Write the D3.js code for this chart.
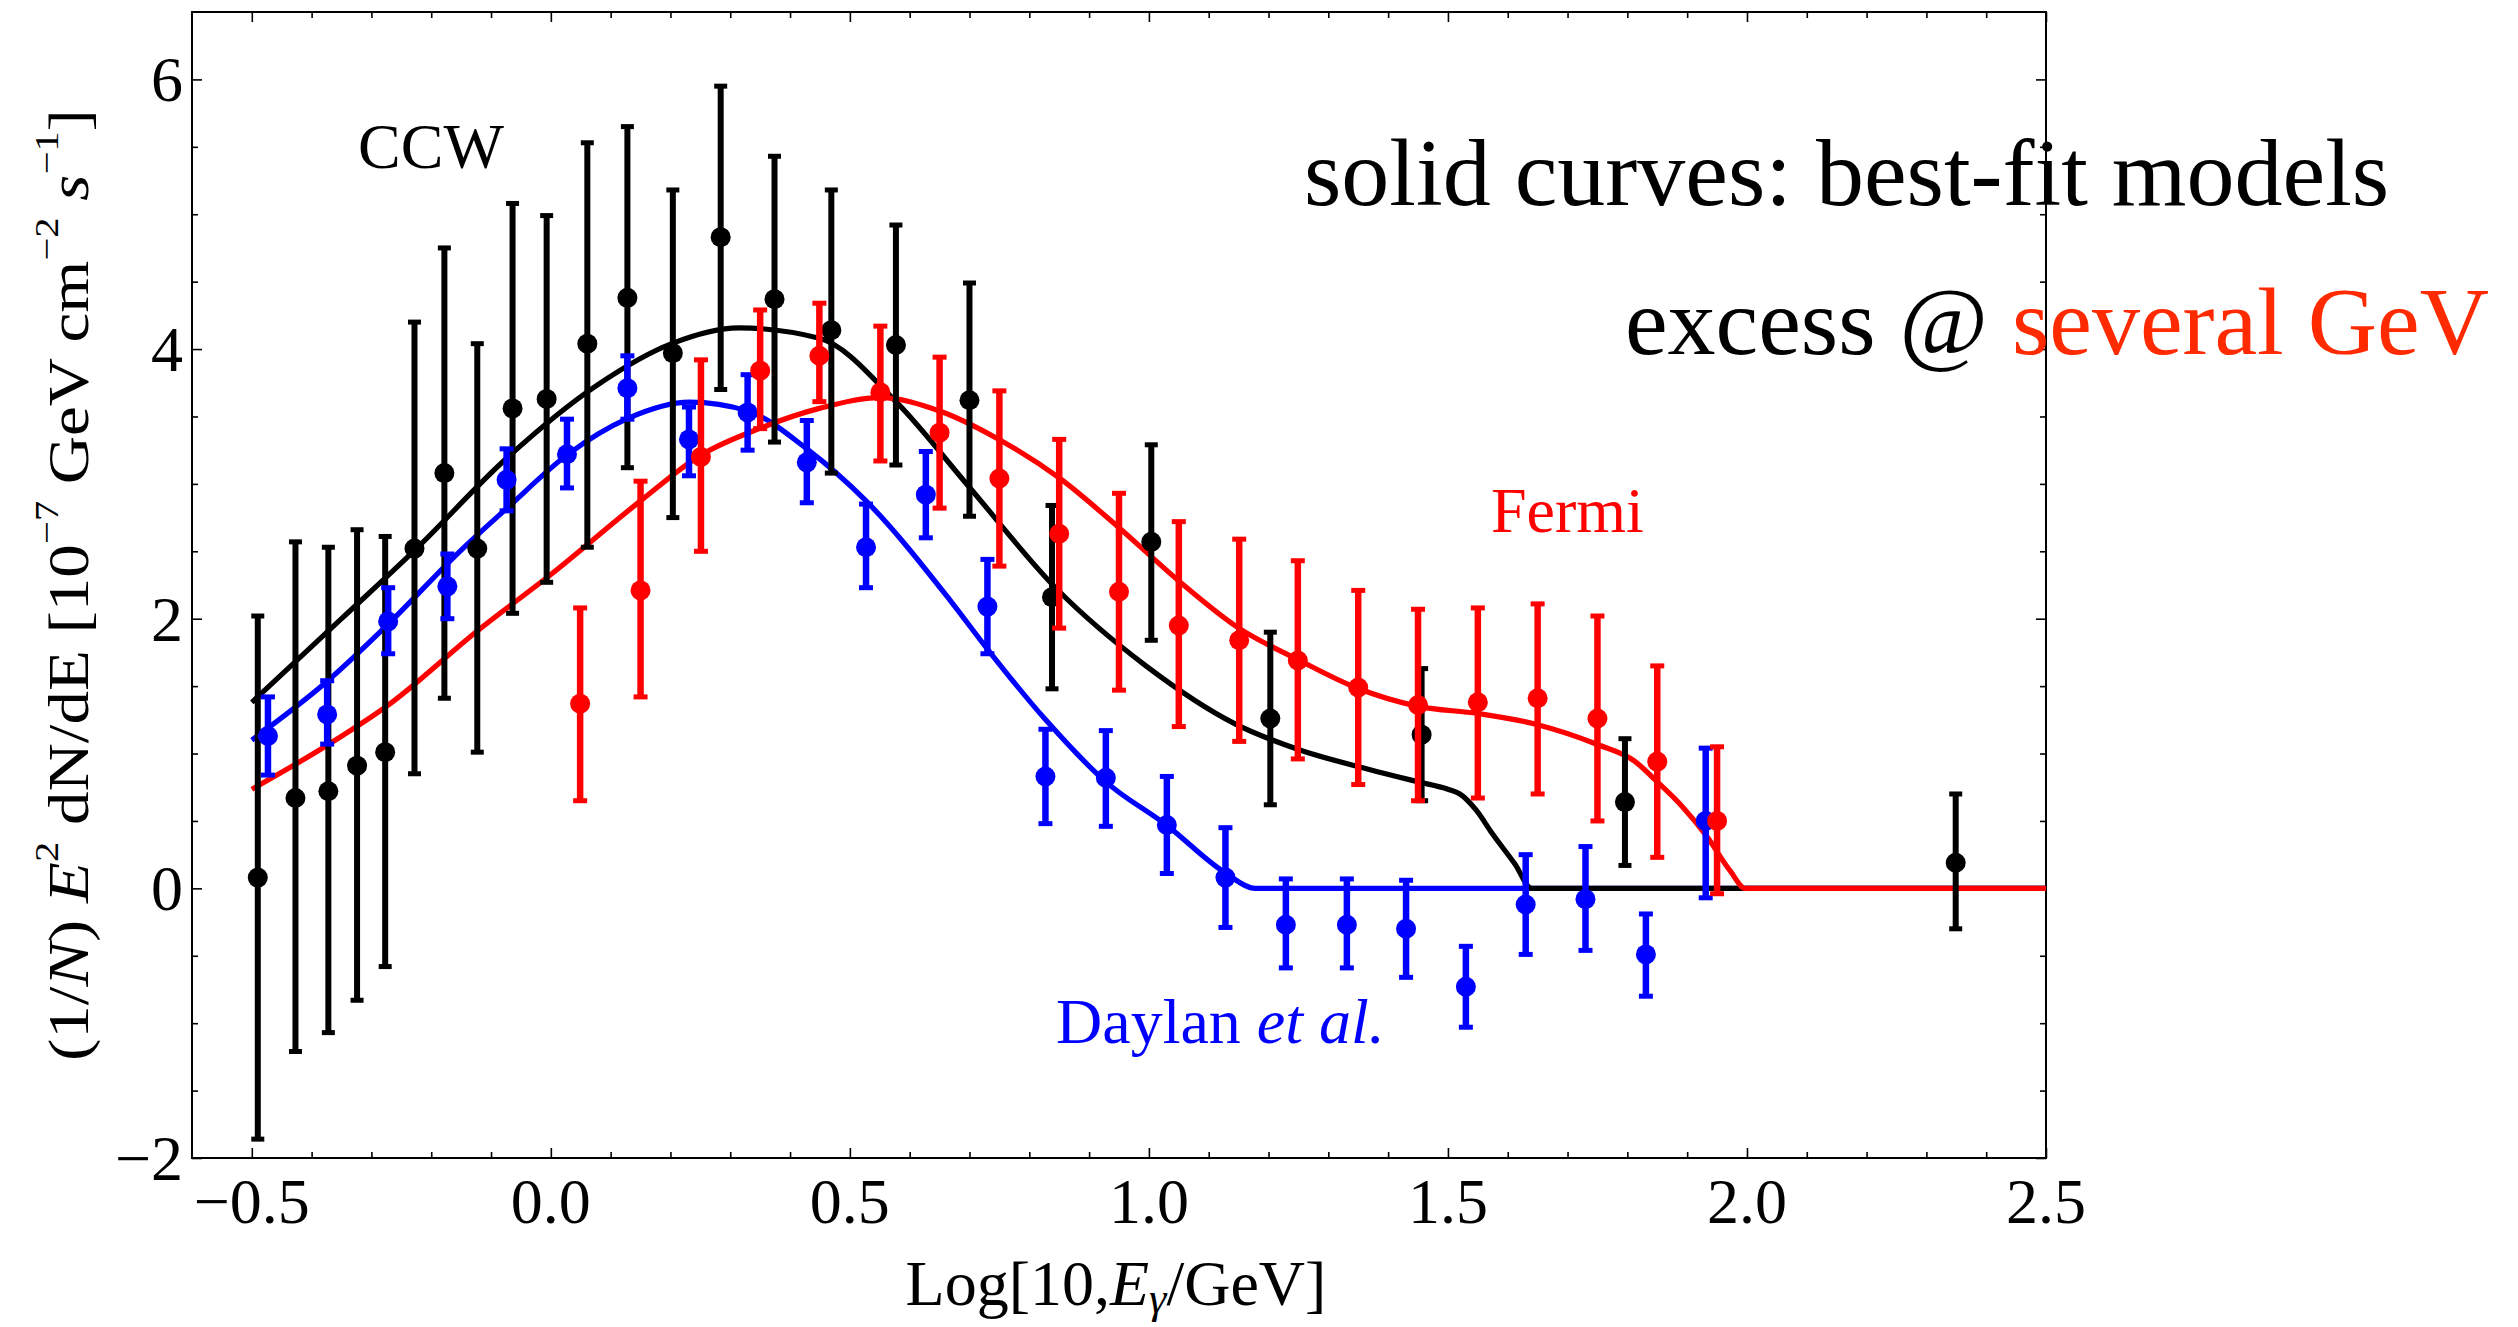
<!DOCTYPE html>
<html lang="en">
  <head>
    <meta charset="UTF-8" />
    <title>CCW / Fermi / Daylan spectra</title>
    <script src="https://cdn.jsdelivr.net/npm/d3@7"></script>
    <style>
      html,
      body {
        margin: 0;
        padding: 0;
        background: #fff;
      }
      svg {
        display: block;
        font-family: 'Liberation Serif', 'Times New Roman', serif;
      }
    </style>
  </head>
  <body>
    <svg width="2518" height="1327"></svg>
    <script>
      // CCW points (black)
      const ccwX = [-0.490, -0.427, -0.372, -0.324, -0.277, -0.228, -0.178, -0.123, -0.064, -0.007, 0.061, 0.128,
        0.204, 0.284, 0.374, 0.469, 0.577, 0.700, 0.838, 1.004, 1.203, 1.456, 1.796, 2.349];
      const ccwY = [0.08, 0.67, 0.72, 0.91, 1.01, 2.52, 3.08, 2.52, 3.56, 3.63, 4.04, 4.38,
        3.97, 4.83, 4.37, 4.14, 4.03, 3.62, 2.16, 2.57, 1.26, 1.14, 0.64, 0.19];
      const ccwHi = [2.02, 2.57, 2.53, 2.66, 2.61, 4.20, 4.75, 4.04, 5.08, 4.99, 5.53, 5.65,
        5.18, 5.95, 5.43, 5.18, 4.92, 4.49, 2.84, 3.29, 1.90, 1.63, 1.11, 0.70];
      const ccwLo = [-1.86, -1.21, -1.07, -0.83, -0.58, 0.85, 1.41, 1.01, 2.04, 2.27, 2.53, 3.12,
        2.75, 3.70, 3.31, 3.08, 3.14, 2.76, 1.48, 1.84, 0.62, 0.65, 0.17, -0.30];

      // Daylan et al. points (blue)
      const daylanX = [-0.473, -0.374, -0.272, -0.173, -0.074, 0.027, 0.128, 0.231, 0.329, 0.428, 0.527, 0.627,
        0.730, 0.827, 0.928, 1.030, 1.128, 1.229, 1.331, 1.430, 1.530, 1.630, 1.730, 1.831, 1.931];
      const daylanY = [1.13, 1.29, 1.98, 2.24, 3.03, 3.22, 3.71, 3.33, 3.53, 3.16, 2.53, 2.92,
        2.09, 0.83, 0.82, 0.47, 0.08, -0.27, -0.27, -0.30, -0.73, -0.12, -0.08, -0.49, 0.50];
      const daylanHi = [1.42, 1.54, 2.23, 2.48, 3.26, 3.48, 3.95, 3.57, 3.81, 3.47, 2.85, 3.24,
        2.44, 1.18, 1.17, 0.83, 0.45, 0.07, 0.07, 0.06, -0.43, 0.25, 0.31, -0.19, 1.04];
      const daylanLo = [0.84, 1.07, 1.74, 2.00, 2.80, 2.97, 3.48, 3.06, 3.25, 2.86, 2.23, 2.60,
        1.74, 0.48, 0.46, 0.11, -0.29, -0.59, -0.59, -0.66, -1.03, -0.49, -0.46, -0.80, -0.07];

      // Fermi points (red)
      const fermiX = [0.049, 0.150, 0.251, 0.350, 0.449, 0.551, 0.650, 0.750, 0.850, 0.950,
        1.050, 1.151, 1.249, 1.350, 1.450, 1.550, 1.650, 1.750, 1.850, 1.950];
      const fermiY = [1.37, 2.21, 3.20, 3.84, 3.95, 3.68, 3.38, 3.04, 2.63, 2.20,
        1.95, 1.84, 1.69, 1.49, 1.36, 1.38, 1.41, 1.26, 0.94, 0.50];
      const fermiHi = [2.08, 3.02, 3.92, 4.29, 4.34, 4.17, 3.94, 3.69, 3.33, 2.93,
        2.72, 2.59, 2.43, 2.21, 2.07, 2.08, 2.11, 2.02, 1.65, 1.05];
      const fermiLo = [0.65, 1.42, 2.50, 3.41, 3.61, 3.17, 2.82, 2.39, 1.93, 1.47,
        1.20, 1.09, 0.96, 0.77, 0.65, 0.67, 0.70, 0.50, 0.23, -0.04];

      // best-fit curves
      const ccwFitX = [-0.50, -0.35, -0.227, -0.074, 0.075, 0.202, 0.314, 0.449, 0.577, 0.697, 0.846, 0.995,
        1.144, 1.25, 1.37, 1.45, 1.50, 1.52, 1.548, 1.572, 1.612, 1.64, 2.5];
      const ccwFitY = [1.38, 2.00, 2.51, 3.19, 3.725, 4.04, 4.157, 4.08, 3.61, 2.99, 2.22, 1.65,
        1.22, 1.03, 0.88, 0.79, 0.735, 0.70, 0.576, 0.42, 0.18, 0, 0];

      const daylanFitX = [-0.50, -0.372, -0.272, -0.149, -0.074, 0.027, 0.128, 0.232, 0.329, 0.428, 0.527, 0.667,
        0.730, 0.827, 0.928, 1.030, 1.128, 1.178, 2.5];
      const daylanFitY = [1.10, 1.544, 1.96, 2.513, 2.817, 3.214, 3.484, 3.606, 3.541, 3.26, 2.874, 2.14,
        1.775, 1.252, 0.79, 0.467, 0.114, 0, 0];

      const fermiFitX = [-0.50, -0.372, -0.272, -0.122, 0.0, 0.15, 0.251, 0.35, 0.449, 0.551, 0.65, 0.75, 0.85,
        0.95, 1.05, 1.151, 1.249, 1.35, 1.45, 1.55, 1.65, 1.75, 1.812, 1.85, 1.892, 1.932, 1.972, 1.997, 2.5];
      const fermiFitY = [0.735, 1.067, 1.359, 1.913, 2.328, 2.874, 3.214, 3.413, 3.56, 3.64, 3.541, 3.328, 3.044,
        2.675, 2.28, 1.928, 1.697, 1.482, 1.35, 1.297, 1.214, 1.067, 0.944, 0.79, 0.606, 0.391, 0.129, 0, 0];

      const xMajor = [-0.5, 0, 0.5, 1, 1.5, 2, 2.5];
      const yMajor = [-2, 0, 2, 4, 6];

      const svg = d3.select('svg');
      const plotLeft = 192, plotRight = 2046, plotTop = 12, plotBottom = 1158;

      const x = d3.scaleLinear().domain([-0.6, 2.5]).range([plotLeft, plotRight]);
      const y = d3.scaleLinear().domain([-2, 6.5]).range([plotBottom, plotTop]);

      const xMinor = d3.range(-0.5, 2.5001, 0.1).filter(v => Math.abs(v * 2 - Math.round(v * 2)) > 1e-6);
      const yMinor = d3.range(-2, 6.5001, 0.5).filter(v => Math.abs(v / 2 - Math.round(v / 2)) > 1e-6 && v < 6.4);

      function ticks(axis, pos, transform, vals, size) {
        const g = svg.append('g')
          .attr('transform', transform)
          .call(axis(pos).tickValues(vals).tickSize(-size).tickFormat(''));
        g.select('.domain').remove();
        g.selectAll('line').attr('stroke', '#000').attr('stroke-width', 1.6);
        return g;
      }

      ticks(d3.axisBottom, x, `translate(0,${plotBottom})`, xMajor, 10);
      ticks(d3.axisBottom, x, `translate(0,${plotBottom})`, xMinor, 6);
      ticks(d3.axisTop, x, `translate(0,${plotTop})`, xMajor, 10);
      ticks(d3.axisTop, x, `translate(0,${plotTop})`, xMinor, 6);
      ticks(d3.axisLeft, y, `translate(${plotLeft},0)`, yMajor, 10);
      ticks(d3.axisLeft, y, `translate(${plotLeft},0)`, yMinor, 6);
      ticks(d3.axisRight, y, `translate(${plotRight},0)`, yMajor, 10);
      ticks(d3.axisRight, y, `translate(${plotRight},0)`, yMinor, 6);

      // tick labels
      svg.append('g')
        .selectAll('text')
        .data(xMajor)
        .enter()
        .append('text')
        .attr('x', d => x(d))
        .attr('y', 1223)
        .attr('text-anchor', 'middle')
        .attr('font-size', 64)
        .text(d => d3.format('.1f')(d));

      svg.append('g')
        .selectAll('text')
        .data(yMajor)
        .enter()
        .append('text')
        .attr('x', 183)
        .attr('y', d => y(d) + 22)
        .attr('text-anchor', 'end')
        .attr('font-size', 64)
        .text(d => d3.format('d')(d));

      svg.append('rect')
        .attr('x', plotLeft)
        .attr('y', plotTop)
        .attr('width', plotRight - plotLeft)
        .attr('height', plotBottom - plotTop)
        .attr('fill', 'none')
        .attr('stroke', '#000')
        .attr('stroke-width', 2);

      // curves
      const line = d3.line()
        .x(d => x(d[0]))
        .y(d => y(d[1]))
        .curve(d3.curveMonotoneX);

      function curve(xs, ys, color) {
        svg.append('path')
          .datum(d3.zip(xs, ys))
          .attr('d', line)
          .attr('fill', 'none')
          .attr('stroke', color)
          .attr('stroke-width', 5.2)
          .attr('stroke-linejoin', 'round');
      }

      curve(daylanFitX, daylanFitY, '#0000ff');
      curve(ccwFitX, ccwFitY, '#000000');
      curve(fermiFitX, fermiFitY, '#ff0000');

      // points with error bars
      function points(xs, ys, lo, hi, color, bw, cw) {
        const data = xs.map((v, i) => ({ x: v, y: ys[i], lo: lo[i], hi: hi[i] }));
        const g = svg.append('g');
        g.selectAll('line.bar')
          .data(data)
          .enter()
          .append('line')
          .attr('class', 'bar')
          .attr('x1', d => x(d.x))
          .attr('x2', d => x(d.x))
          .attr('y1', d => y(d.lo))
          .attr('y2', d => y(d.hi))
          .attr('stroke', color)
          .attr('stroke-width', bw);
        ['lo', 'hi'].forEach(k => {
          g.selectAll('line.cap-' + k)
            .data(data)
            .enter()
            .append('line')
            .attr('class', 'cap-' + k)
            .attr('x1', d => x(d.x) - cw / 2)
            .attr('x2', d => x(d.x) + cw / 2)
            .attr('y1', d => y(d[k]))
            .attr('y2', d => y(d[k]))
            .attr('stroke', color)
            .attr('stroke-width', 5);
        });
        g.selectAll('circle')
          .data(data)
          .enter()
          .append('circle')
          .attr('cx', d => x(d.x))
          .attr('cy', d => y(d.y))
          .attr('r', 10)
          .attr('fill', color);
      }

      points(ccwX, ccwY, ccwLo, ccwHi, '#000000', 6, 13);
      points(daylanX, daylanY, daylanLo, daylanHi, '#0000ff', 6.5, 14);
      points(fermiX, fermiY, fermiLo, fermiHi, '#ff0000', 6.5, 14);

      // annotations
      svg.append('text')
        .attr('x', 358).attr('y', 168)
        .attr('font-size', 64)
        .text('CCW');

      svg.append('text')
        .attr('x', 1304).attr('y', 205)
        .attr('font-size', 96)
        .text('solid curves: best-fit models');

      const exc = svg.append('text')
        .attr('x', 1625).attr('y', 354)
        .attr('font-size', 96);
      exc.append('tspan').text('excess @ ');
      exc.append('tspan').attr('fill', '#ff2a00').text('several GeV');

      svg.append('text')
        .attr('x', 1491).attr('y', 532)
        .attr('font-size', 64)
        .attr('fill', '#ff0000')
        .text('Fermi');

      const day = svg.append('text')
        .attr('x', 1056).attr('y', 1043)
        .attr('font-size', 64)
        .attr('fill', '#0000ff');
      day.append('tspan').text('Daylan ');
      day.append('tspan').attr('font-style', 'italic').text('et al.');

      // axis titles
      const xLab = svg.append('text')
        .attr('x', 1116).attr('y', 1305)
        .attr('text-anchor', 'middle')
        .attr('font-size', 64);
      xLab.append('tspan').text('Log[10,');
      xLab.append('tspan').attr('font-style', 'italic').text('E');
      xLab.append('tspan').attr('font-style', 'italic').attr('font-size', 44).attr('dy', 8).text('γ');
      xLab.append('tspan').attr('dy', -8).text('/GeV]');

      const yLab = svg.append('text')
        .attr('text-anchor', 'middle')
        .attr('font-size', 56);
      const sup = (txt) => {
        yLab.append('tspan').attr('font-size', 34).attr('dy', -30).text(txt);
      };
      yLab.append('tspan').text('(1/');
      yLab.append('tspan').attr('font-style', 'italic').text('N');
      yLab.append('tspan').text(') ');
      yLab.append('tspan').attr('font-style', 'italic').text('E');
      sup('2');
      yLab.append('tspan').attr('dy', 30).text(' dN/dE [10');
      sup('−7');
      yLab.append('tspan').attr('dy', 30).text(' GeV cm');
      sup('−2');
      yLab.append('tspan').attr('dy', 30).text(' ');
      yLab.append('tspan').attr('font-style', 'italic').text('s');
      sup('−1');
      yLab.append('tspan').attr('dy', 30).text(']');
      const w = yLab.node().getBBox().width;
      yLab.attr('transform', `translate(88,585) rotate(-90) scale(${952 / w},1)`);
    </script>
  </body>
</html>
